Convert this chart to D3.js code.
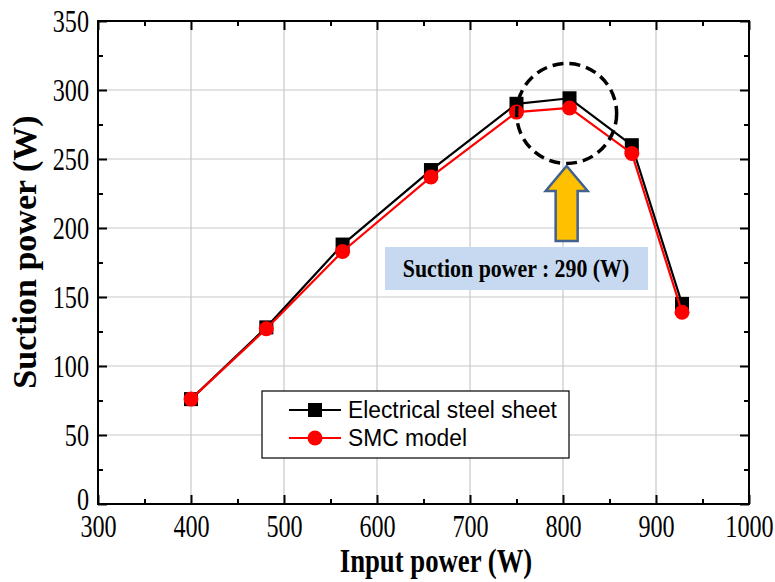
<!DOCTYPE html>
<html>
<head>
<meta charset="utf-8">
<script src="https://cdn.jsdelivr.net/npm/d3@7"></script>
<style>
  html, body { margin: 0; padding: 0; background: #fff; }
  svg { display: block; }
</style>
</head>
<body>
<svg id="chart" width="775" height="582"></svg>
<script>
// Input power (W) for each measured operating point
const inputPower = [400, 481, 563, 658, 750, 807, 874, 928];
// Suction power (W) of the two core designs
const steelSheet = [76, 128, 188, 242, 290, 294, 260, 145];
const smcModel   = [76, 127, 183, 237, 284, 287, 254, 139];
const seriesNames = ["Electrical steel sheet", "SMC model"];
const xTicks = [300, 400, 500, 600, 700, 800, 900, 1000];
const yTicks = [0, 50, 100, 150, 200, 250, 300, 350];
const peakLabel = "Suction power : 290 (W)";

const svg = d3.select("#chart");
const serif = "'Liberation Serif', 'Times New Roman', serif";
const sans = "'Liberation Sans', Arial, sans-serif";

const plotLeft = 98, plotRight = 749, plotTop = 21, plotBottom = 504;
const x = d3.scaleLinear().domain([300, 1000]).range([plotLeft, plotRight]);
const y = d3.scaleLinear().domain([0, 350]).range([plotBottom, plotTop]);

// grid
const grid = svg.append("g");
grid.selectAll("line.gx").data(xTicks.slice(1, -1)).join("line")
  .attr("x1", d => x(d)).attr("x2", d => x(d))
  .attr("y1", plotTop).attr("y2", plotBottom)
  .attr("stroke", "#c8c8c8").attr("stroke-width", 1.2);
grid.selectAll("line.gy").data(yTicks.slice(1, -1)).join("line")
  .attr("y1", d => y(d)).attr("y2", d => y(d))
  .attr("x1", plotLeft).attr("x2", plotRight)
  .attr("stroke", "#c8c8c8").attr("stroke-width", 1.2);

// axes with inward ticks on all four sides
const xMinor = d3.range(350, 1000, 100);
const yMinor = d3.range(25, 350, 50);
const tickFont = 31, tickSx = 0.78;
function tickStyle(g) {
  g.select(".domain").remove();
  g.selectAll(".tick line").attr("stroke", "#000").attr("stroke-width", 2);
}
const xAxis = svg.append("g").attr("transform", `translate(0,${plotBottom})`)
  .call(d3.axisBottom(x).tickValues(xTicks).tickSize(-9).tickPadding(11).tickFormat(d3.format("d")))
  .call(tickStyle);
xAxis.selectAll(".tick text")
  .attr("font-family", serif).attr("font-size", tickFont).attr("fill", "#000")
  .attr("transform", `scale(${tickSx},1)`);
svg.append("g").attr("transform", `translate(0,${plotBottom})`)
  .call(d3.axisBottom(x).tickValues(xMinor).tickSize(-5).tickFormat(""))
  .call(tickStyle);
svg.append("g").attr("transform", `translate(0,${plotTop})`)
  .call(d3.axisTop(x).tickValues(xTicks).tickSize(-9).tickFormat(""))
  .call(tickStyle);
svg.append("g").attr("transform", `translate(0,${plotTop})`)
  .call(d3.axisTop(x).tickValues(xMinor).tickSize(-5).tickFormat(""))
  .call(tickStyle);

const yAxis = svg.append("g").attr("transform", `translate(${plotLeft},0)`)
  .call(d3.axisLeft(y).tickValues(yTicks).tickSize(-9).tickPadding(0).tickFormat(d3.format("d")))
  .call(tickStyle);
yAxis.selectAll(".tick text")
  .attr("font-family", serif).attr("font-size", tickFont).attr("fill", "#000")
  .attr("x", -9 / tickSx).attr("dy", "0.34em")
  .attr("transform", d => `translate(0,${d === 0 ? -5 : 0}) scale(${tickSx},1)`);
svg.append("g").attr("transform", `translate(${plotLeft},0)`)
  .call(d3.axisLeft(y).tickValues(yMinor).tickSize(-5).tickFormat(""))
  .call(tickStyle);
svg.append("g").attr("transform", `translate(${plotRight},0)`)
  .call(d3.axisRight(y).tickValues(yTicks).tickSize(-9).tickFormat(""))
  .call(tickStyle);
svg.append("g").attr("transform", `translate(${plotRight},0)`)
  .call(d3.axisRight(y).tickValues(yMinor).tickSize(-5).tickFormat(""))
  .call(tickStyle);

// frame
svg.append("rect")
  .attr("x", plotLeft).attr("y", plotTop)
  .attr("width", plotRight - plotLeft).attr("height", plotBottom - plotTop)
  .attr("fill", "none").attr("stroke", "#000").attr("stroke-width", 2);

// axis titles
svg.append("text")
  .attr("transform", "translate(436,572) scale(0.81,1)")
  .attr("text-anchor", "middle")
  .attr("font-family", serif).attr("font-weight", "bold").attr("font-size", 33)
  .text("Input power (W)");
svg.append("text")
  .attr("transform", "translate(36,252) rotate(-90)")
  .attr("text-anchor", "middle")
  .attr("font-family", serif).attr("font-weight", "bold").attr("font-size", 34)
  .text("Suction power (W)");

// series
const line = d3.line().x(d => x(d[0])).y(d => y(d[1]));
const steelPts = inputPower.map((p, i) => [p, steelSheet[i]]);
const smcPts = inputPower.map((p, i) => [p, smcModel[i]]);

svg.append("path").datum(steelPts).attr("d", line)
  .attr("fill", "none").attr("stroke", "#000").attr("stroke-width", 2.2);
svg.append("g").selectAll("rect").data(steelPts).join("rect")
  .attr("x", d => x(d[0]) - 7).attr("y", d => y(d[1]) - 7)
  .attr("width", 14).attr("height", 14).attr("fill", "#000");

svg.append("path").datum(smcPts).attr("d", line)
  .attr("fill", "none").attr("stroke", "#ff0000").attr("stroke-width", 2.2);
svg.append("g").selectAll("circle").data(smcPts).join("circle")
  .attr("cx", d => x(d[0])).attr("cy", d => y(d[1]))
  .attr("r", 7.5).attr("fill", "#ff0000");

// peak annotation: dashed circle, arrow and label
const peakX = 805;
const cx = x(peakX) - 1;
svg.append("circle")
  .attr("cx", cx).attr("cy", y(283)).attr("r", 50)
  .attr("fill", "none").attr("stroke", "#000").attr("stroke-width", 3.5)
  .attr("stroke-dasharray", "11,6");

const tipY = 166, headY = 191, baseY = 241;
svg.append("polygon")
  .attr("points", [
    [cx, tipY], [cx + 21, headY], [cx + 11, headY], [cx + 11, baseY],
    [cx - 11, baseY], [cx - 11, headY], [cx - 21, headY]
  ].map(p => p.join(",")).join(" "))
  .attr("fill", "#ffc000").attr("stroke", "#41618e").attr("stroke-width", 2.5)
  .attr("stroke-linejoin", "miter");

svg.append("rect")
  .attr("x", 385).attr("y", 247).attr("width", 263).attr("height", 43)
  .attr("fill", "#c6d9f0");
svg.append("text")
  .attr("transform", "translate(516,277) scale(0.84,1)")
  .attr("text-anchor", "middle")
  .attr("font-family", serif).attr("font-weight", "bold").attr("font-size", 26)
  .text(peakLabel);

// legend
const lg = svg.append("g");
lg.append("rect")
  .attr("x", 262).attr("y", 391).attr("width", 307).attr("height", 67)
  .attr("fill", "#fff").attr("stroke", "#000").attr("stroke-width", 1.2);
const rows = [
  { name: seriesNames[0], color: "#000", shape: "square", y: 410 },
  { name: seriesNames[1], color: "#ff0000", shape: "circle", y: 438 }
];
rows.forEach(r => {
  lg.append("line").attr("x1", 289).attr("x2", 341).attr("y1", r.y).attr("y2", r.y)
    .attr("stroke", r.color).attr("stroke-width", 2.2);
  if (r.shape === "square") {
    lg.append("rect").attr("x", 315 - 7).attr("y", r.y - 7)
      .attr("width", 14).attr("height", 14).attr("fill", r.color);
  } else {
    lg.append("circle").attr("cx", 315).attr("cy", r.y).attr("r", 7.5).attr("fill", r.color);
  }
  lg.append("text")
    .attr("transform", `translate(348,${r.y + 8}) scale(0.95,1)`)
    .attr("font-family", sans).attr("font-size", 24)
    .text(r.name);
});
</script>
</body>
</html>
